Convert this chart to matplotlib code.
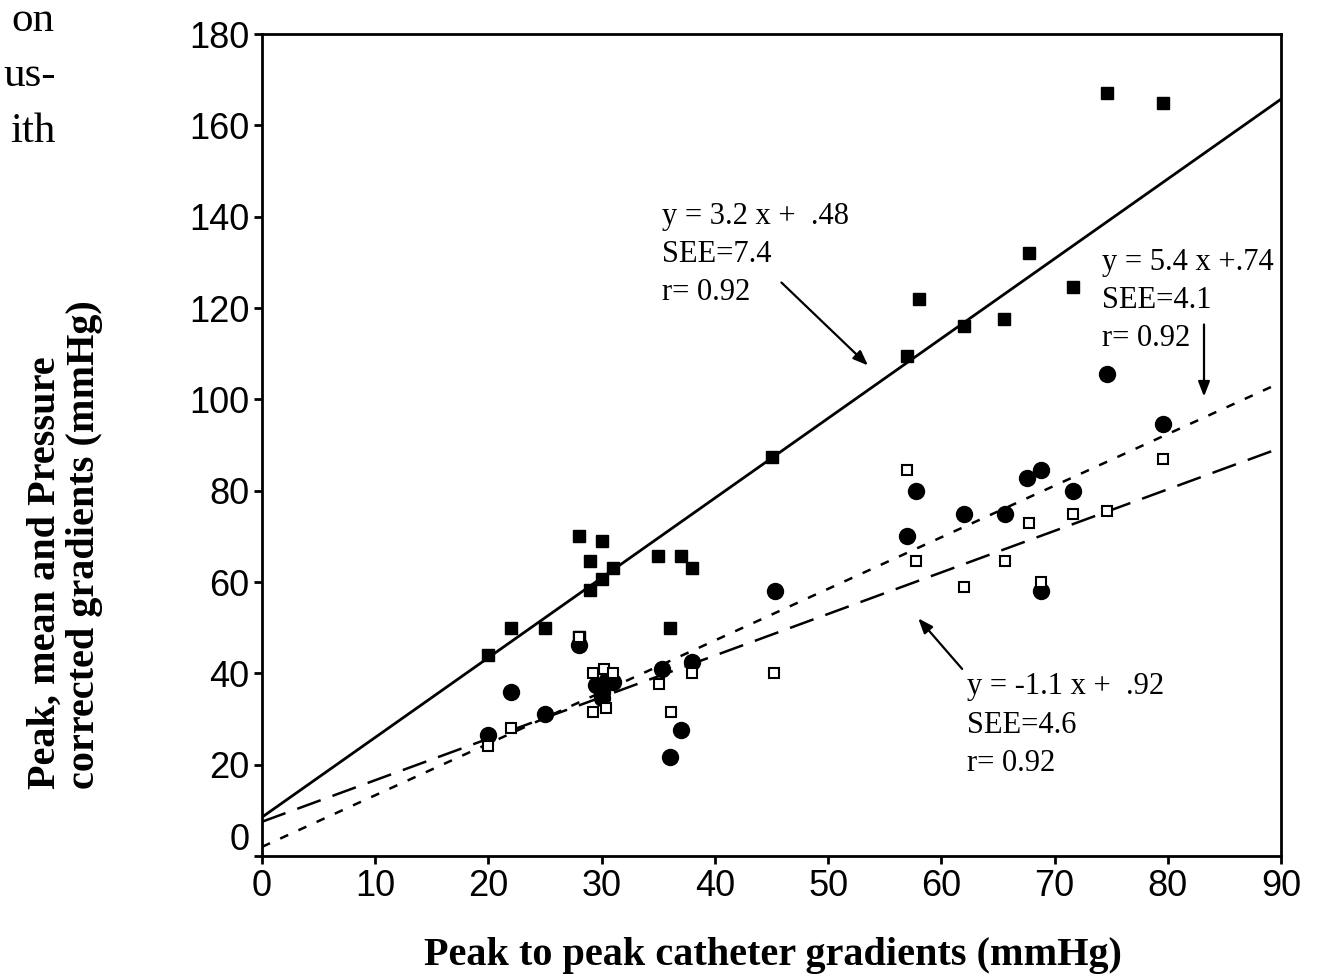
import matplotlib
matplotlib.use("Agg")
import matplotlib.pyplot as plt
from matplotlib.transforms import ScaledTranslation
import numpy as np

# Peak gradients (filled squares)
peak_x = [20, 22, 25, 28, 28, 29, 29, 30, 30, 31, 35, 36, 37, 38, 45, 57, 58, 62, 65.5, 67.7, 71.6, 74.6, 79.6]
peak_y = [44, 50, 50, 70, 48, 64.5, 58.3, 69, 60.7, 63, 65.8, 50, 65.8, 63, 87.3, 109.5, 122, 116, 117.5, 132, 124.5, 167, 165]

# Mean gradients (filled circles)
mean_x = [20, 22, 25, 28, 29.5, 30, 30.5, 31, 30, 35.3, 38, 36, 37, 45.3, 57, 57.8, 62, 65.6, 67.6, 68.8, 68.8, 71.6, 74.6, 79.6]
mean_y = [26.5, 36, 31, 46.3, 37.5, 36, 38.5, 38, 34.5, 41, 42.5, 21.7, 27.6, 58, 70, 80, 75, 75, 82.7, 84.6, 58, 80, 105.5, 94.5]

# Pressure corrected gradients (open squares)
corr_x = [20, 22, 28, 29.2, 30.2, 31, 29.2, 30.4, 35.1, 36.1, 38, 45.2, 57, 57.8, 62, 65.6, 67.7, 68.8, 71.6, 74.6, 79.6]
corr_y = [24, 28, 48, 40, 41, 40, 31.6, 32.5, 37.7, 31.6, 40, 40, 84.6, 64.5, 59, 64.5, 73, 60, 75, 75.5, 87]

# Regression lines: (intercept, slope)
fit_peak = (8.5, 1.747)
fit_mean = (2.0, 1.13)
fit_corr = (7.5, 0.91)

x_ticks = list(range(0, 91, 10))
y_ticks = list(range(0, 181, 20))

serif = ["Liberation Serif", "DejaVu Serif"]
sans = ["Liberation Sans", "DejaVu Sans"]

W, H = 1317, 976
fig = plt.figure(figsize=(W / 100, H / 100), dpi=100)
ax = fig.add_axes([262 / W, 1 - 856 / H, (1281 - 262) / W, (856 - 34) / H])

xx = np.array([0, 90])
ax.plot(xx, fit_peak[0] + fit_peak[1] * xx, color="black", lw=2.0, solid_capstyle="butt")
ax.plot(xx, fit_mean[0] + fit_mean[1] * xx, color="black", lw=1.8, dashes=(3.5, 4.5))
ax.plot(xx, fit_corr[0] + fit_corr[1] * xx, color="black", lw=1.8, dashes=(10, 5))

ax.plot(peak_x, peak_y, ls="none", marker="s", ms=9, mfc="black", mec="black", zorder=4)
ax.plot(mean_x, mean_y, ls="none", marker="o", ms=11.5, mfc="black", mec="black", zorder=4)
ax.plot(corr_x, corr_y, ls="none", marker="s", ms=7, mfc="white", mec="black", mew=1.5, zorder=5)

ax.set_xlim(0, 90)
ax.set_ylim(0, 180)
ax.set_xticks(x_ticks)
ax.set_yticks(y_ticks)
ax.tick_params(axis="both", direction="out", length=6, width=2, labelsize=26, pad=3)
for lab in ax.get_xticklabels() + ax.get_yticklabels():
    lab.set_family(sans)
# the zero label on the value axis sits a little above its tick
zero_lab = ax.get_yticklabels()[0]
zero_lab.set_transform(zero_lab.get_transform() + ScaledTranslation(0, 20 / 100, fig.dpi_scale_trans))
for sp in ax.spines.values():
    sp.set_linewidth(2)

fig.text(773 / W, 1 - 955 / H, "Peak to peak catheter gradients (mmHg)", family=serif,
         fontweight="bold", fontsize=29, ha="center", va="center")
fig.text(65 / W, 1 - 789 / H, "Peak, mean and Pressure\ncorrected gradients (mmHg)", family=serif,
         fontweight="bold", fontsize=29, rotation=90, ha="center", va="bottom",
         multialignment="left", linespacing=1.1)

ann_kw = dict(family=serif, fontsize=22, va="top", ha="left", linespacing=1.42)
ax.text(35.3, 143.3, "y = 3.2 x +  .48\nSEE=7.4\nr= 0.92", **ann_kw)
ax.text(74.2, 133.2, "y = 5.4 x +.74\nSEE=4.1\nr= 0.92", **ann_kw)
ax.text(62.3, 40.2, "y = -1.1 x +  .92\nSEE=4.6\nr= 0.92", **ann_kw)

arrow = dict(arrowstyle="-|>,head_length=0.9,head_width=0.35", color="black", lw=1.6)
ax.annotate("", xy=(53.7, 107), xytext=(45.7, 126), arrowprops=arrow)
ax.annotate("", xy=(83.2, 100), xytext=(83.2, 117), arrowprops=arrow)
ax.annotate("", xy=(57.8, 52.5), xytext=(62.0, 40.5), arrowprops=arrow)

# Running text of the surrounding page
page_kw = dict(family=serif, fontsize=31, ha="right", va="baseline")
fig.text(54 / W, 1 - 31 / H, "on", **page_kw)
fig.text(56 / W, 1 - 86 / H, "us-", **page_kw)
fig.text(56 / W, 1 - 142 / H, "ith", **page_kw)

fig.savefig("out.png", dpi=100)
